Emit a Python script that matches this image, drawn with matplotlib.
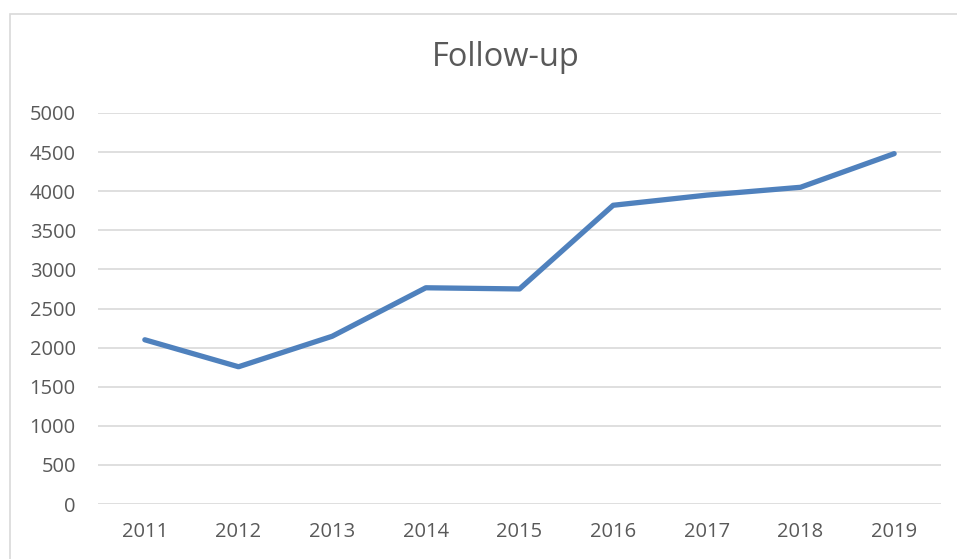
import matplotlib
matplotlib.use("Agg")
import matplotlib.pyplot as plt
from matplotlib.patches import Rectangle

years = ["2011", "2012", "2013", "2014", "2015", "2016", "2017", "2018", "2019"]
follow_up = [2100, 1755, 2145, 2765, 2750, 3820, 3950, 4050, 4480]
yticks = [0, 500, 1000, 1500, 2000, 2500, 3000, 3500, 4000, 4500, 5000]

plt.rcParams['font.family'] = ['Open Sans', 'DejaVu Sans']
text_color = '#595959'
grid_color = '#D9D9D9'

fig = plt.figure(figsize=(9.57, 5.59), dpi=100)
ax = fig.add_axes([98 / 957, 1 - 504 / 559, (941 - 98) / 957, (504 - 113) / 559])

# outer chart frame (runs off the right/bottom edge in the reference)
fig.patches.append(Rectangle((10 / 957, -0.1), 1.2, 1 - 14 / 559 + 0.1,
                             transform=fig.transFigure, fill=False,
                             edgecolor=grid_color, linewidth=1.2))

x = list(range(len(years)))
ax.plot(x, follow_up, color='#4F81BD', linewidth=3.8,
        solid_capstyle='round', solid_joinstyle='round', zorder=3)

ax.set_xlim(-0.5, len(years) - 0.5)
ax.set_ylim(0, 5000)
ax.set_yticks(yticks)
ax.set_xticks(x)
ax.set_xticklabels(years)

for s in ax.spines.values():
    s.set_visible(False)
ax.yaxis.grid(True, color=grid_color, linewidth=1.2)
ax.set_axisbelow(True)
ax.tick_params(axis='both', length=0, labelcolor=text_color, labelsize=14.5)
ax.tick_params(axis='y', pad=16)
ax.tick_params(axis='x', pad=13)

fig.text(506 / 957, 1 - 58 / 559, "Follow-up", ha='center', va='center',
         fontsize=23.5, color=text_color)

fig.savefig("out.png", dpi=100)
